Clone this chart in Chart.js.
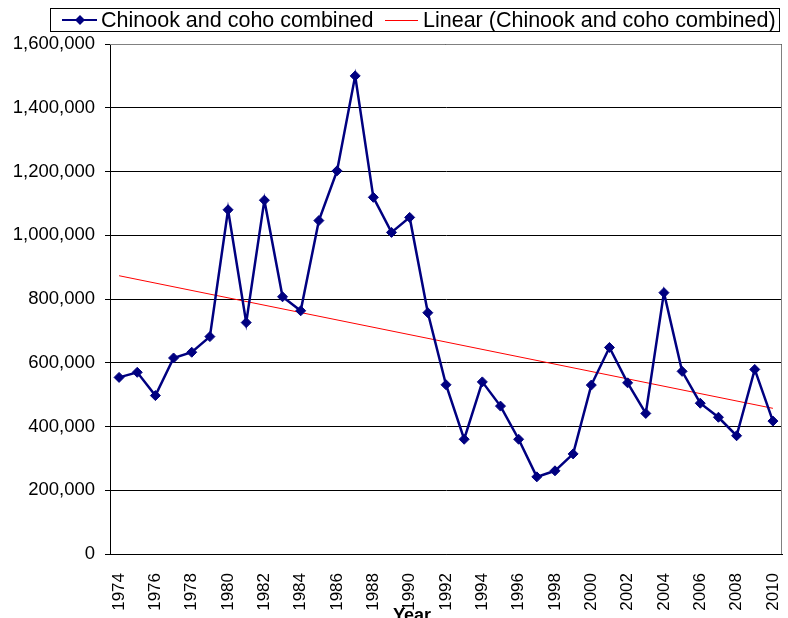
<!DOCTYPE html>
<html>
<head>
<meta charset="utf-8">
<script src="https://cdn.jsdelivr.net/npm/chart.js@4/dist/chart.umd.min.js"></script>
<style>
html,body{margin:0;padding:0;background:#fff;}
#wrap{width:788px;height:618px;position:relative;}
</style>
</head>
<body>
<div id="wrap"><canvas id="c" width="788" height="618"></canvas></div>
<script>
const years = ['1974','1975','1976','1977','1978','1979','1980','1981','1982','1983','1984','1985','1986','1987','1988','1989','1990','1991','1992','1993','1994','1995','1996','1997','1998','1999','2000','2001','2002','2003','2004','2005','2006','2007','2008','2009','2010'];
const combined = [554000,570000,497000,615000,633000,682000,1080000,726000,1110000,807000,763000,1046000,1202000,1500000,1119000,1009000,1056000,757000,531000,360000,540000,464000,360000,242000,261000,314000,530000,648000,537000,441000,820000,573000,473000,429000,371000,579000,417000];
const trendYears = ['1974','2010'];
const trendValues = [873000,457000];
const seriesName = 'Chinook and coho combined';
const trendName = 'Linear (Chinook and coho combined)';
const axisTitle = 'Year';

const FONT = '"Liberation Sans", Arial, sans-serif';

const decor = {
  id: 'decor',
  afterDraw(chart) {
    const ctx = chart.ctx;
    const a = chart.chartArea;
    ctx.save();
    ctx.strokeStyle = '#808080';
    ctx.lineWidth = 1;
    ctx.beginPath();
    ctx.moveTo(a.left, a.top + 0.5);
    ctx.lineTo(a.right - 0.5, a.top + 0.5);
    ctx.lineTo(a.right - 0.5, a.bottom);
    ctx.stroke();
    ctx.fillStyle = '#fff';
    ctx.fillRect(50, 8, 730, 23);
    ctx.strokeStyle = '#000';
    ctx.strokeRect(50.5, 8.5, 729, 23);
    const cy = 20;
    ctx.strokeStyle = '#000080';
    ctx.lineWidth = 2;
    ctx.beginPath(); ctx.moveTo(62, cy); ctx.lineTo(97, cy); ctx.stroke();
    ctx.fillStyle = '#000080';
    ctx.beginPath();
    ctx.moveTo(80, cy - 5); ctx.lineTo(85, cy); ctx.lineTo(80, cy + 5); ctx.lineTo(75, cy);
    ctx.closePath(); ctx.fill();
    ctx.fillStyle = '#000';
    ctx.font = '21.5px ' + FONT;
    ctx.textBaseline = 'middle';
    ctx.textAlign = 'left';
    ctx.fillText(seriesName, 101, cy + 1);
    ctx.strokeStyle = '#ff0000';
    ctx.lineWidth = 1;
    ctx.beginPath(); ctx.moveTo(385, cy + 0.5); ctx.lineTo(418, cy + 0.5); ctx.stroke();
    ctx.fillText(trendName, 423, cy + 1);
    ctx.font = 'bold 18px ' + FONT;
    ctx.textAlign = 'center';
    ctx.textBaseline = 'alphabetic';
    ctx.fillText(axisTitle, 412, 621);
    ctx.restore();
  }
};

new Chart(document.getElementById('c'), {
  type: 'line',
  data: {
    labels: years,
    datasets: [
      {
        label: seriesName,
        data: combined,
        borderColor: '#000080',
        backgroundColor: '#000080',
        borderWidth: 2.5,
        pointStyle: 'rectRot',
        pointRadius: 5,
        pointBorderWidth: 1,
        tension: 0,
        order: 1
      },
      {
        label: trendName,
        data: trendYears.map((y, i) => ({x: y, y: trendValues[i]})),
        borderColor: '#ff0000',
        backgroundColor: '#ff0000',
        borderWidth: 1,
        pointRadius: 0,
        tension: 0,
        order: 2
      }
    ]
  },
  options: {
    responsive: false,
    animation: false,
    events: [],
    layout: { padding: { top: 44, right: 6, left: 0, bottom: 0 } },
    plugins: { legend: { display: false }, title: { display: false }, tooltip: { enabled: false } },
    scales: {
      x: {
        type: 'category',
        offset: true,
        grid: { display: false, drawTicks: false },
        border: { display: true, color: '#000', width: 1 },
        ticks: {
          autoSkip: false,
          maxRotation: 90,
          minRotation: 90,
          padding: 19,
          color: '#000',
          font: { family: FONT, size: 17 },
          callback: function(v, i) { return i % 2 === 0 ? this.getLabelForValue(v) : ''; }
        },
        afterFit(scale) { scale.height = 64; scale.paddingLeft = 0; scale.paddingRight = 0; }
      },
      y: {
        min: 0,
        max: 1600000,
        grid: { color: '#000', lineWidth: 1, tickLength: 5, drawTicks: true },
        border: { display: true, color: '#000', width: 1 },
        ticks: {
          stepSize: 200000,
          padding: 10,
          color: '#000',
          font: { family: FONT, size: 18.5 },
          callback: v => v.toLocaleString('en-US')
        },
        afterFit(scale) { scale.width = 110; scale.paddingTop = 0; scale.paddingBottom = 0; }
      }
    }
  },
  plugins: [decor]
});
</script>
</body>
</html>
